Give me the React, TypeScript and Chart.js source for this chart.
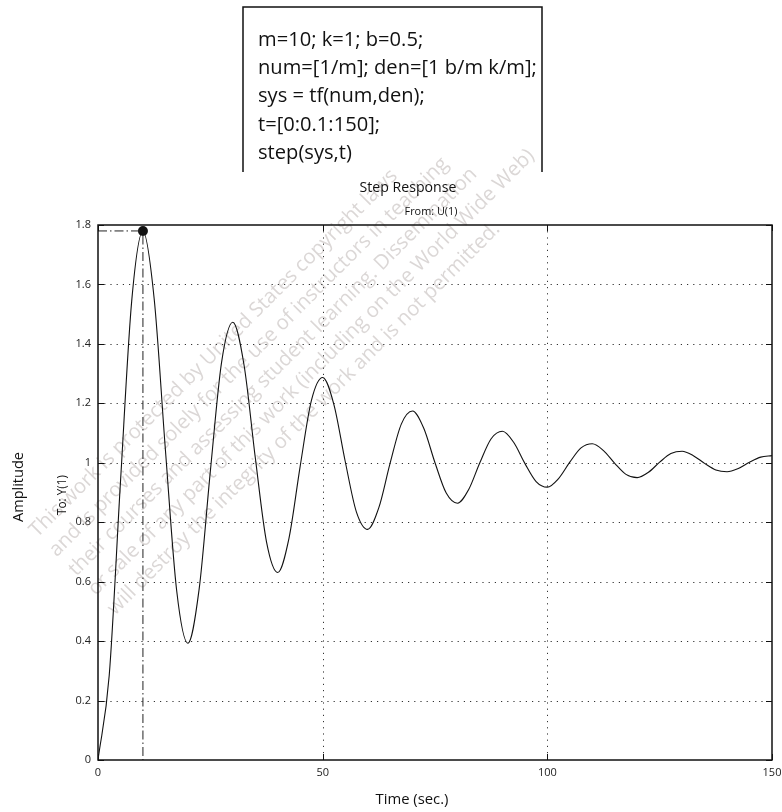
import React, { useEffect, useRef } from 'react';
import { Chart, registerables } from 'chart.js';

Chart.register(...registerables);

// ---------- data ----------
const timeSec = [
  0, 2.5, 5, 7.5, 10, 12.5, 15, 17.5, 20, 22.5,
  25, 27.5, 30, 32.5, 35, 37.5, 40, 42.5, 45, 47.5,
  50, 52.5, 55, 57.5, 60, 62.5, 65, 67.5, 70, 72.5,
  75, 77.5, 80, 82.5, 85, 87.5, 90, 92.5, 95, 97.5,
  100, 102.5, 105, 107.5, 110, 112.5, 115, 117.5, 120, 122.5,
  125, 127.5, 130, 132.5, 135, 137.5, 140, 142.5, 145, 147.5,
  150,
];
const amplitude = [
  0, 0.285, 0.935, 1.544, 1.779, 1.552, 1.044, 0.571, 0.393, 0.574,
  0.971, 1.338, 1.473, 1.329, 1.018, 0.734, 0.631, 0.746, 0.989, 1.21,
  1.287, 1.196, 1.006, 0.835, 0.776, 0.849, 0.998, 1.13, 1.174, 1.116,
  1.0, 0.898, 0.864, 0.91, 1.001, 1.081, 1.106, 1.069, 0.998, 0.937,
  0.918, 0.947, 1.002, 1.05, 1.064, 1.041, 0.998, 0.961, 0.95, 0.968,
  1.002, 1.031, 1.039, 1.024, 0.998, 0.976, 0.97, 0.981, 1.002, 1.019,
  1.024,
];
const peakTime = 10;
const peakAmplitude = 1.78;

const xTickValues = [0, 50, 100, 150];
const xTickLabels = ['0', '50', '100', '150'];
const yTickValues = [0, 0.2, 0.4, 0.6, 0.8, 1, 1.2, 1.4, 1.6, 1.8];
const yTickLabels = ['0', '0.2', '0.4', '0.6', '0.8', '1', '1.2', '1.4', '1.6', '1.8'];

const codeLines = [
  'm=10; k=1; b=0.5;',
  'num=[1/m]; den=[1 b/m k/m];',
  'sys = tf(num,den);',
  't=[0:0.1:150];',
  'step(sys,t)',
];
const titleText = 'Step Response';
const subtitleText = 'From: U(1)';
const yAxisTitle = 'Amplitude';
const outputLabel = 'To: Y(1)';
const xAxisTitle = 'Time (sec.)';
const watermarkLines = [
  'This work is protected by United States copyright laws',
  'and is provided solely for the use of instructors in teaching',
  'their courses and assessing student learning. Dissemination',
  'or sale of any part of this work (including on the World Wide Web)',
  'will destroy the integrity of the work and is not permitted.',
];

// ---------- styling ----------
const FONT = '"Open Sans", "Liberation Sans", sans-serif';
const INK = '#111';

function fitSize(ctx: CanvasRenderingContext2D, text: string, width: number) {
  ctx.font = `100px ${FONT}`;
  const w = ctx.measureText(text).width || 1;
  return (100 * width) / w;
}

const decorPlugin = {
  id: 'decor',
  beforeDatasetsDraw(chart: any) {
    const { ctx, chartArea: a, scales } = chart;
    const xs = scales.x;
    const ys = scales.y;
    ctx.save();
    // watermark
    const wmSize = fitSize(ctx, watermarkLines[3], 622);
    ctx.font = `${wmSize}px ${FONT}`;
    ctx.fillStyle = 'rgba(160,150,146,0.38)';
    ctx.textAlign = 'left';
    ctx.textBaseline = 'middle';
    ctx.save();
    ctx.rotate(-Math.PI / 4);
    watermarkLines.forEach((ln, i) => {
      ctx.fillText(ln, -354, 401 + 27.5 * i);
    });
    ctx.restore();

    // dotted grid
    ctx.strokeStyle = '#333';
    ctx.lineWidth = 1;
    ctx.setLineDash([1.2, 5]);
    xTickValues.forEach((v) => {
      if (v === xTickValues[0] || v === xTickValues[xTickValues.length - 1]) return;
      const px = Math.round(xs.getPixelForValue(v)) + 0.5;
      ctx.beginPath();
      ctx.moveTo(px, a.top);
      ctx.lineTo(px, a.bottom);
      ctx.stroke();
    });
    yTickValues.forEach((v) => {
      if (v === yTickValues[0] || v === yTickValues[yTickValues.length - 1]) return;
      const py = Math.round(ys.getPixelForValue(v)) + 0.5;
      ctx.beginPath();
      ctx.moveTo(a.left, py);
      ctx.lineTo(a.right, py);
      ctx.stroke();
    });
    ctx.restore();
  },
  afterDraw(chart: any) {
    const { ctx, chartArea: a, scales } = chart;
    const xs = scales.x;
    const ys = scales.y;
    ctx.save();
    // frame
    ctx.setLineDash([]);
    ctx.strokeStyle = INK;
    ctx.lineWidth = 1.5;
    ctx.strokeRect(a.left, a.top, a.right - a.left, a.bottom - a.top);
    // inward ticks
    ctx.lineWidth = 1;
    const tl = 6;
    xTickValues.forEach((v) => {
      const px = Math.round(xs.getPixelForValue(v)) + 0.5;
      ctx.beginPath();
      ctx.moveTo(px, a.bottom);
      ctx.lineTo(px, a.bottom - tl);
      ctx.moveTo(px, a.top);
      ctx.lineTo(px, a.top + tl);
      ctx.stroke();
    });
    yTickValues.forEach((v) => {
      const py = Math.round(ys.getPixelForValue(v)) + 0.5;
      ctx.beginPath();
      ctx.moveTo(a.left, py);
      ctx.lineTo(a.left + tl, py);
      ctx.moveTo(a.right, py);
      ctx.lineTo(a.right - tl, py);
      ctx.stroke();
    });

    // code box
    ctx.lineWidth = 1.5;
    ctx.beginPath();
    ctx.moveTo(243, 172);
    ctx.lineTo(243, 7);
    ctx.lineTo(542, 7);
    ctx.lineTo(542, 172);
    ctx.stroke();
    const codeSize = fitSize(ctx, codeLines[1], 279);
    ctx.font = `${codeSize}px ${FONT}`;
    ctx.fillStyle = INK;
    ctx.textAlign = 'left';
    ctx.textBaseline = 'middle';
    codeLines.forEach((ln, i) => ctx.fillText(ln, 258, 40 + 28.3 * i));

    // titles
    ctx.textAlign = 'center';
    ctx.font = `${fitSize(ctx, titleText, 97)}px ${FONT}`;
    ctx.fillText(titleText, 408, 188);
    ctx.font = `${fitSize(ctx, subtitleText, 53)}px ${FONT}`;
    ctx.fillText(subtitleText, 431, 212);
    ctx.font = `${fitSize(ctx, xAxisTitle, 73)}px ${FONT}`;
    ctx.fillText(xAxisTitle, 412, 800);

    ctx.save();
    ctx.translate(19, 487);
    ctx.rotate(-Math.PI / 2);
    ctx.font = `${fitSize(ctx, yAxisTitle, 70)}px ${FONT}`;
    ctx.fillText(yAxisTitle, 0, 0);
    ctx.restore();

    ctx.save();
    ctx.translate(63, 495);
    ctx.rotate(-Math.PI / 2);
    ctx.font = `${fitSize(ctx, outputLabel, 40)}px ${FONT}`;
    ctx.fillText(outputLabel, 0, 0);
    ctx.restore();

    ctx.restore();
  },
};

export default function App() {
  const canvasRef = useRef<HTMLCanvasElement | null>(null);

  useEffect(() => {
    const canvas = canvasRef.current;
    if (!canvas) return;
    const chart = new Chart(canvas, {
      type: 'line',
      data: {
        datasets: [
          {
            label: 'step',
            data: timeSec.map((t, i) => ({ x: t, y: amplitude[i] })),
            borderColor: INK,
            borderWidth: 1.1,
            pointRadius: 0,
            cubicInterpolationMode: 'monotone',
            fill: false,
          },
          {
            label: 'peak guide',
            data: [
              { x: xTickValues[0], y: peakAmplitude },
              { x: peakTime, y: peakAmplitude },
              { x: peakTime, y: yTickValues[0] },
            ],
            borderColor: '#222',
            borderWidth: 1,
            borderDash: [9, 3, 1.5, 3],
            pointRadius: 0,
            tension: 0,
            fill: false,
          },
          {
            label: 'peak',
            data: [{ x: peakTime, y: peakAmplitude }],
            showLine: false,
            pointRadius: 5,
            pointBackgroundColor: INK,
            pointBorderColor: INK,
            pointBorderWidth: 0,
          },
        ],
      },
      options: {
        responsive: false,
        animation: false,
        events: [],
        layout: { padding: { top: 225, right: 10, bottom: 0, left: 0 } },
        plugins: {
          legend: { display: false },
          title: { display: false },
          tooltip: { enabled: false },
        },
        scales: {
          x: {
            type: 'linear',
            min: xTickValues[0],
            max: xTickValues[xTickValues.length - 1],
            afterBuildTicks: (scale: any) => {
              scale.ticks = xTickValues.map((v) => ({ value: v }));
            },
            afterFit: (scale: any) => {
              scale.height = 52;
              scale.paddingLeft = 0;
              scale.paddingRight = 0;
            },
            grid: { display: false, drawTicks: false },
            border: { display: false },
            ticks: {
              padding: 6,
              maxRotation: 0,
              autoSkip: false,
              color: '#222',
              font: { family: FONT, size: 11 },
              callback: (_v: any, i: number) => xTickLabels[i],
            },
          },
          y: {
            type: 'linear',
            min: yTickValues[0],
            max: yTickValues[yTickValues.length - 1],
            afterBuildTicks: (scale: any) => {
              scale.ticks = yTickValues.map((v) => ({ value: v }));
            },
            afterFit: (scale: any) => {
              scale.width = 98;
              scale.paddingTop = 0;
              scale.paddingBottom = 0;
            },
            grid: { display: false, drawTicks: false },
            border: { display: false },
            ticks: {
              padding: 7,
              autoSkip: false,
              color: '#222',
              font: { family: FONT, size: 11 },
              callback: (_v: any, i: number) => yTickLabels[i],
            },
          },
        },
      },
      plugins: [decorPlugin],
    } as any);
    return () => chart.destroy();
  }, []);

  return (
    <div style={{ position: 'absolute', left: 0, top: 0, width: 782, height: 812, background: '#fff' }}>
      <canvas ref={canvasRef} width={782} height={812} style={{ display: 'block', width: 782, height: 812 }} />
    </div>
  );
}
